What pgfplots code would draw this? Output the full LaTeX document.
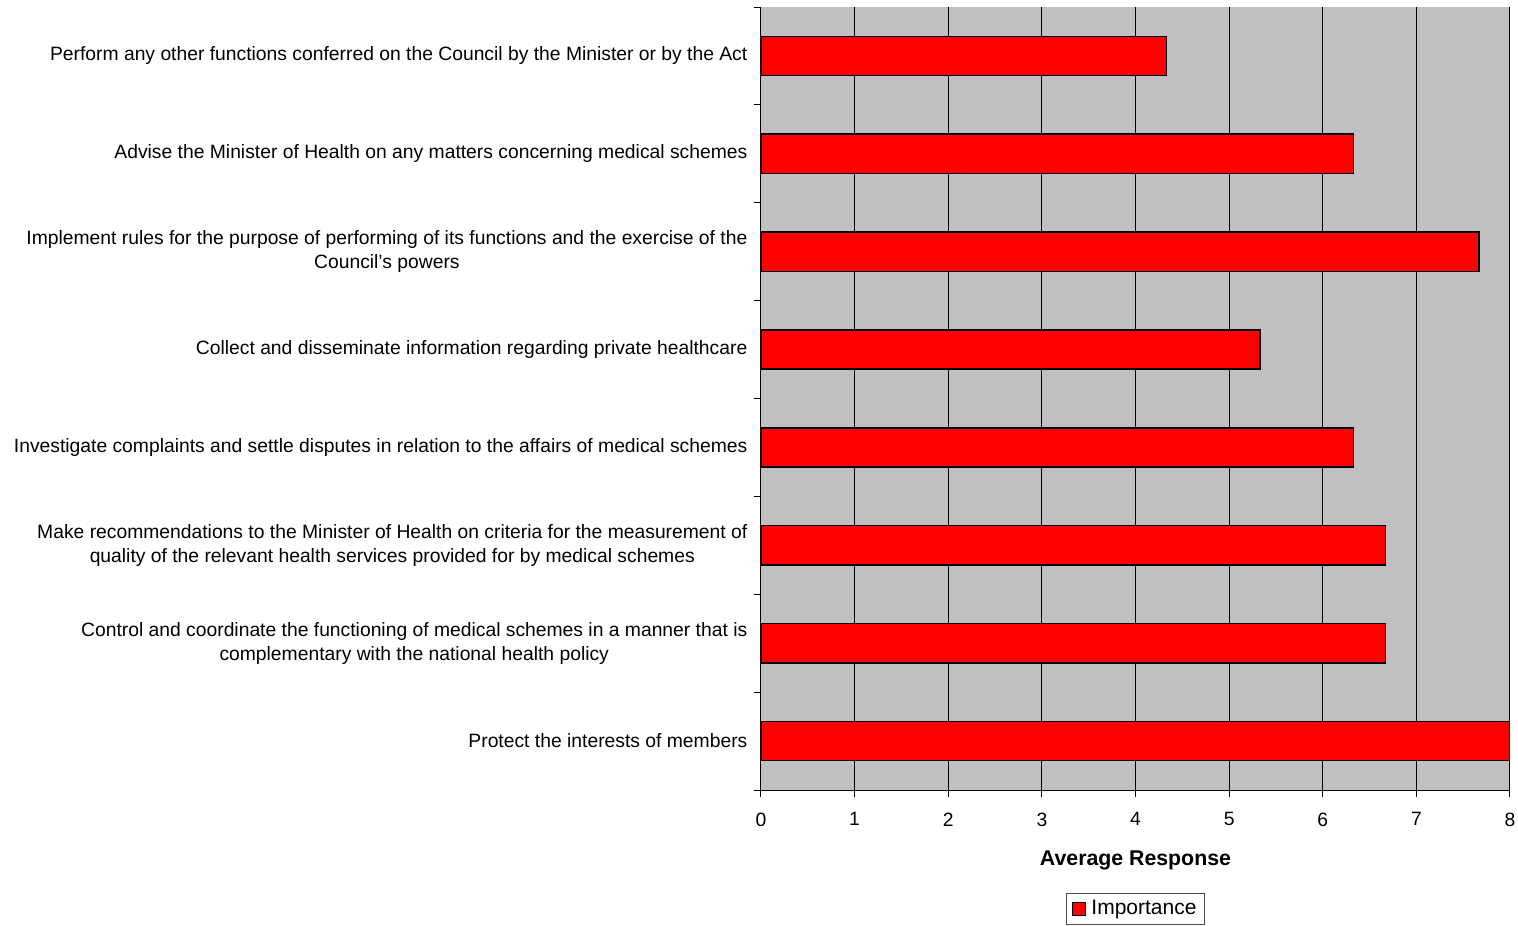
\documentclass[border=0pt]{standalone}
\usepackage{fontspec}
\setmainfont{Liberation Sans}
\usepackage{pgfplots}
\pgfplotsset{compat=1.18}
\definecolor{plotgray}{HTML}{C0C0C0}
\begin{document}
\fontsize{19.3bp}{24bp}\selectfont
\begin{tikzpicture}
\path[use as bounding box] (-761bp,-136bp) rectangle (757bp,790bp);
\begin{axis}[
 at={(0,0)}, anchor=south west,
 width=749bp, height=783bp, scale only axis,
 xbar, bar width=0.4,
 xmin=0, xmax=8, ymin=-0.5, ymax=7.5,
 xtick={0,...,8},
 ytick={0,...,7},
 yticklabels={
  {Protect the interests of members},
  {Control and coordinate the functioning of medical schemes in a manner that is\\complementary with the national health policy},
  {Make recommendations to the Minister of Health on criteria for the measurement of\\quality of the relevant health services provided for by medical schemes},
  {Investigate complaints and settle disputes in relation to the affairs of medical schemes},
  {Collect and disseminate information regarding private healthcare},
  {Implement rules for the purpose of performing of its functions and the exercise of the\\Council’s powers},
  {Advise the Minister of Health on any matters concerning medical schemes},
  {Perform any other functions conferred on the Council by the Minister or by the Act}
 },
 minor ytick={-0.5,0.5,...,7.5},
 axis lines*=left,
 axis line style={-, black, line width=1bp},
 tick align=outside,
 major tick length=7bp, minor tick length=7bp,
 major y tick style={draw=none},
 minor y tick style={black, line width=1bp},
 major x tick style={black, line width=1bp},
 xmajorgrids,
 major grid style={black, line width=1bp},
 axis background/.style={fill=plotgray},
 /pgf/number format/assume math mode=true,
 xlabel={\bfseries Average Response},
 ticklabel style={font=\fontsize{19.3bp}{24bp}\selectfont},
 label style={font=\fontsize{21.3bp}{24bp}\selectfont},
 xticklabel style={yshift=-9bp},
 xlabel style={at={(0.5,-0.0905)}, anchor=center},
 yticklabel style={align=center},
 legend style={at={(0.5,-0.1315)}, anchor=north, draw=black!70, line width=1bp,
   font=\fontsize{21bp}{24bp}\selectfont, inner xsep=6bp, inner ysep=5bp},
 legend image code/.code={\draw[fill=red, draw=black, line width=1bp] (0bp,-6bp) rectangle (13bp,7bp);},
]
\addplot[fill=red, draw=black, line width=1.5bp] coordinates {
 (8,0) (6.67,1) (6.67,2) (6.33,3) (5.33,4) (7.67,5) (6.33,6) (4.33,7)};
\addlegendentry{\hspace{3bp}Importance}
\end{axis}
\end{tikzpicture}
\end{document}
